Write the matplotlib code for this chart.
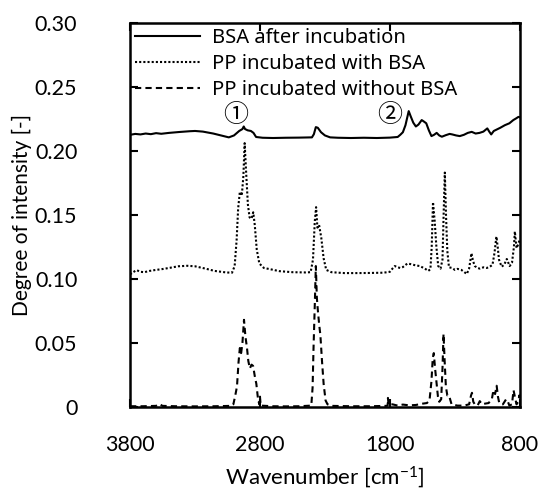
import matplotlib
matplotlib.use("Agg")
import matplotlib.pyplot as plt

# FTIR spectra (wavenumber [cm-1], intensity)
bsa_x = [3800, 3760, 3720, 3680, 3640, 3600, 3560, 3500, 3420, 3340, 3300, 3240, 3160, 3080,
         3040, 3000, 2960, 2935, 2925, 2915, 2895, 2870, 2850, 2830, 2780, 2700, 2600, 2500,
         2400, 2385, 2370, 2355, 2330, 2300, 2260, 2200, 2100, 2000, 1900, 1800, 1740, 1720,
         1700, 1680, 1655, 1640, 1620, 1600, 1580, 1555, 1540, 1520, 1500, 1480, 1460, 1440,
         1420, 1400, 1370, 1340, 1320, 1290, 1262, 1230, 1200, 1170, 1140, 1110, 1080, 1050,
         1035, 1020, 1000, 980, 950, 915, 880, 850, 830, 810, 800]
bsa_y = [0.2125, 0.2132, 0.2128, 0.2135, 0.2130, 0.2138, 0.2133, 0.2140, 0.2147, 0.2153,
         0.2155, 0.2150, 0.2135, 0.2115, 0.2105, 0.2120, 0.2155, 0.2170, 0.2190, 0.2170,
         0.2160, 0.2155, 0.2140, 0.2108, 0.2102, 0.2100, 0.2102, 0.2103, 0.2105, 0.2130,
         0.2185, 0.2180, 0.2145, 0.2120, 0.2105, 0.2102, 0.2100, 0.2102, 0.2100, 0.2103,
         0.2108, 0.2125, 0.2145, 0.2200, 0.2310, 0.2270, 0.2220, 0.2190, 0.2205, 0.2240,
         0.2230, 0.2215, 0.2160, 0.2115, 0.2125, 0.2140, 0.2120, 0.2110, 0.2122, 0.2132,
         0.2128, 0.2120, 0.2115, 0.2125, 0.2140, 0.2148, 0.2135, 0.2140, 0.2150, 0.2175,
         0.2150, 0.2128, 0.2155, 0.2165, 0.2180, 0.2200, 0.2215, 0.2240, 0.2252, 0.2265,
         0.2262]

with_x = [3800, 3780, 3750, 3720, 3690, 3650, 3600, 3560, 3500, 3430, 3360, 3300, 3220, 3150,
          3060, 3015, 2995, 2980, 2968, 2955, 2940, 2928, 2918, 2905, 2893, 2880, 2865, 2852,
          2840, 2825, 2805, 2770, 2720, 2650, 2550, 2450, 2410, 2392, 2378, 2368, 2358, 2345,
          2328, 2310, 2290, 2250, 2150, 2050, 1950, 1850, 1800, 1780, 1762, 1740, 1720, 1700,
          1665, 1640, 1600, 1570, 1530, 1505, 1488, 1478, 1468, 1455, 1442, 1428, 1410, 1395,
          1385, 1377, 1368, 1358, 1345, 1320, 1300, 1280, 1250, 1230, 1208, 1190, 1172, 1160,
          1146, 1125, 1108, 1080, 1054, 1030, 1010, 995, 980, 970, 960, 940, 920, 900, 878,
          860, 845, 838, 825, 812, 800]
with_y = [0.1035, 0.1050, 0.1068, 0.1055, 0.1052, 0.1062, 0.1070, 0.1075, 0.1085, 0.1098,
          0.1102, 0.1098, 0.1080, 0.1062, 0.1050, 0.1048, 0.1100, 0.1300, 0.1550, 0.1680,
          0.1650, 0.1800, 0.2060, 0.1800, 0.1580, 0.1480, 0.1470, 0.1520, 0.1420, 0.1230,
          0.1120, 0.1085, 0.1075, 0.1060, 0.1052, 0.1050, 0.1052, 0.1150, 0.1450, 0.1560,
          0.1400, 0.1420, 0.1320, 0.1160, 0.1070, 0.1052, 0.1045, 0.1045, 0.1046, 0.1048,
          0.1055, 0.1080, 0.1100, 0.1090, 0.1085, 0.1092, 0.1120, 0.1115, 0.1105, 0.1100,
          0.1080, 0.1062, 0.1075, 0.1250, 0.1600, 0.1450, 0.1250, 0.1100, 0.1080, 0.1150,
          0.1550, 0.1830, 0.1500, 0.1220, 0.1090, 0.1085, 0.1070, 0.1078, 0.1070, 0.1055,
          0.1038, 0.1080, 0.1200, 0.1140, 0.1100, 0.1085, 0.1080, 0.1090, 0.1085, 0.1095,
          0.1110, 0.1200, 0.1330, 0.1250, 0.1150, 0.1095, 0.1110, 0.1155, 0.1100, 0.1125,
          0.1250, 0.1370, 0.1240, 0.1270, 0.1310]

without_x = [3800, 3700, 3600, 3575, 3550, 3450, 3300, 3150, 3020, 3005, 2990, 2977, 2965,
             2955, 2945, 2935, 2923, 2912, 2900, 2890, 2878, 2865, 2853, 2840, 2828, 2815,
             2805, 2800, 2795, 2700, 2600, 2500, 2405, 2395, 2388, 2378, 2370, 2362, 2355,
             2345, 2335, 2322, 2310, 2295, 2280, 2250, 2100, 1950, 1830, 1817, 1815, 1810,
             1780, 1740, 1700, 1650, 1600, 1550, 1515, 1495, 1480, 1470, 1462, 1452, 1442,
             1430, 1420, 1405, 1395, 1387, 1378, 1369, 1358, 1345, 1325, 1280, 1230, 1190,
             1175, 1168, 1158, 1146, 1125, 1108, 1090, 1070, 1040, 1015, 1003, 990, 978, 968,
             958, 930, 905, 895, 880, 860, 848, 838, 825, 812, 803, 800]
without_y = [0.0005, 0.0005, 0.0008, 0.0022, 0.0008, 0.0005, 0.0004, 0.0005, 0.0008, 0.0020,
             0.0090, 0.0160, 0.0350, 0.0460, 0.0420, 0.0500, 0.0680, 0.0550, 0.0460, 0.0360,
             0.0300, 0.0330, 0.0320, 0.0240, 0.0180, 0.0060, 0.0020, 0.0080, 0.0010, 0.0005,
             0.0004, 0.0005, 0.0010, 0.0150, 0.0450, 0.0800, 0.1100, 0.0850, 0.0760, 0.0650,
             0.0560, 0.0350, 0.0180, 0.0050, 0.0020, 0.0008, 0.0005, 0.0005, 0.0008, 0.0010,
             0.0070, 0.0015, 0.0020, 0.0010, 0.0018, 0.0012, 0.0015, 0.0025, 0.0030, 0.0050,
             0.0200, 0.0380, 0.0420, 0.0300, 0.0200, 0.0080, 0.0040, 0.0060, 0.0300, 0.0570,
             0.0350, 0.0160, 0.0090, 0.0090, 0.0020, 0.0010, 0.0010, 0.0020, 0.0090, 0.0110,
             0.0040, 0.0020, 0.0010, 0.0045, 0.0020, 0.0025, 0.0030, 0.0060, 0.0130, 0.0100,
             0.0165, 0.0080, 0.0030, 0.0020, 0.0060, 0.0050, 0.0010, 0.0020, 0.0130, 0.0080,
             0.0020, 0.0040, 0.0090, 0.0070]

labels = ["BSA after incubation", "PP incubated with BSA", "PP incubated without BSA"]
x_ticks = [3800, 2800, 1800, 800]
y_ticks = [0, 0.05, 0.10, 0.15, 0.20, 0.25, 0.30]
y_ticklabels = ["0", "0.05", "0.10", "0.15", "0.20", "0.25", "0.30"]
marks = [("\u2460", 2985, 0.2278), ("\u2461", 1800, 0.2278)]

plt.rcParams["font.family"] = ["Lato", "DejaVu Sans"]
plt.rcParams["mathtext.default"] = "regular"

fig = plt.figure(figsize=(5.42, 4.95), dpi=100)
ax = fig.add_axes([0.240, 0.178, 0.719, 0.776])

lw = 1.5
ax.plot(bsa_x, bsa_y, color="black", lw=lw, label=labels[0])
ax.plot(with_x, with_y, color="black", lw=lw, linestyle=(0, (1, 1)), label=labels[1])
ax.plot(without_x, without_y, color="black", lw=lw, linestyle=(0, (3, 2)), label=labels[2])

ax.set_xlim(3800, 800)
ax.set_ylim(0, 0.30)
ax.set_xticks(x_ticks)
ax.set_xticklabels([str(v) for v in x_ticks])
ax.set_yticks(y_ticks)
ax.set_yticklabels(y_ticklabels)

ax.tick_params(axis="both", direction="in", length=6, width=1.5, labelsize=15.5,
               top=True, right=True)
ax.tick_params(axis="x", pad=20)
ax.tick_params(axis="y", pad=38)
for s in ax.spines.values():
    s.set_linewidth(1.8)

ax.set_xlabel("Wavenumber [cm$^{-1}$]", fontsize=16, labelpad=7)
ax.set_ylabel("Degree of intensity [-]", fontsize=15, labelpad=2)

for txt, xv, yv in marks:
    ax.text(xv, yv, txt, fontsize=18, ha="center", va="center",
            family=["Noto Sans CJK JP", "DejaVu Sans"])

ax.legend(loc="upper left", frameon=False, handlelength=3.2,
          handletextpad=0.6, labelspacing=0.3, borderaxespad=0.05, borderpad=0.2,
          prop={"family": ["Noto Sans", "DejaVu Sans"], "size": 14.5})

fig.savefig("out.png", dpi=100)
